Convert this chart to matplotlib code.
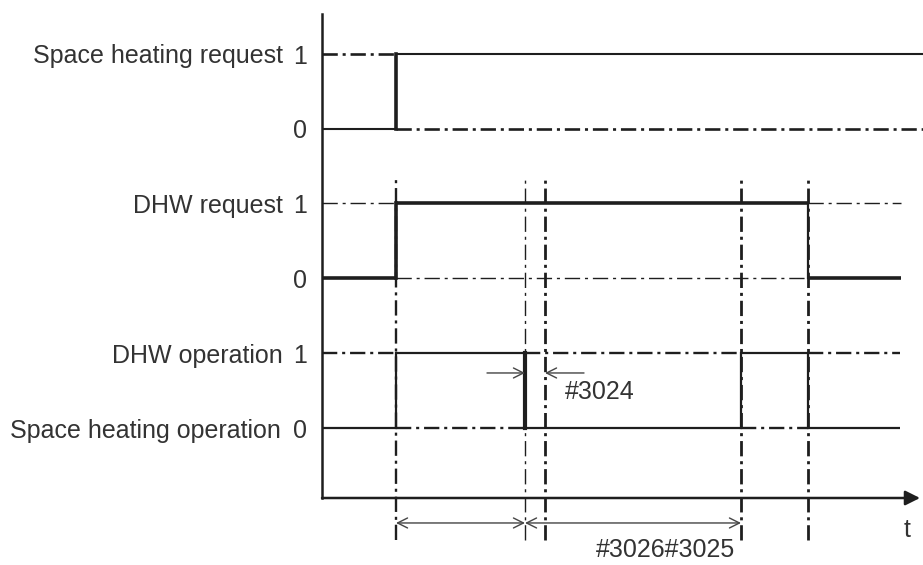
import numpy as np
import matplotlib
matplotlib.use('Agg')
import matplotlib.pyplot as plt

# ---- data: switching times (t units from the origin) and signal states ----
t_end_sh = 601
t_end_dhw = 579
t_end_op = 578

sh_req_edges = [0, 74, t_end_sh]
sh_req_states = [0, 1]

dhw_req_edges = [0, 74, 486, t_end_dhw]
dhw_req_states = [0, 1, 0]

op_edges = [0, 74, 203, 419, 486, t_end_op]
op_states = [0, 1, 0, 1, 0]          # 1 = DHW operation, 0 = space heating operation

guide_times = [74, 203, 223, 419, 486]   # vertical dash-dot reference lines

row_names = ['Space heating request', 'DHW request', 'DHW operation']
bottom_name = 'Space heating operation'
level_labels = ['0', '1']

# dimension arrows
dim_spans = [(74, 203), (203, 419)]
dim_text = '#3026#3025'
gap_span = (203, 223)
gap_text = '#3024'

# ---- styles ----
plt.rcParams['font.family'] = ['Liberation Sans', 'DejaVu Sans']
plt.rcParams['lines.scale_dashes'] = False
ink = '#1e1e1e'
txt = '#333333'
dashdot = (0, (11, 3.5, 2.2, 3.5))

row_base = [4.92, 2.93, 0.93]     # y of the "0" level for each row, "1" is +1
row_signals = [(sh_req_edges, sh_req_states),
               (dhw_req_edges, dhw_req_states),
               (op_edges, op_states)]
row_hlw = [1.5, 2.6, 1.6]          # solid level line width
row_dlw = [1.9, 1.0, 1.7]          # dash-dot line width
row_vlw = [[2.6], [2.6, 1.6], [1.6, 3.0, 1.6, 1.6]]   # edge widths
guide_lw = [1.7, 1.0, 2.0, 2.0, 2.0]

fig = plt.figure(figsize=(9.23, 5.65), dpi=100)
ax = fig.add_axes([322 / 923, 67 / 565, 601 / 923, 498 / 565])
ax.set_xlim(0, 601)
ax.set_ylim(0, 6.64)

# axes lines
for s in ['top', 'right', 'bottom']:
    ax.spines[s].set_visible(False)
ax.spines['left'].set_bounds(0, 6.45)
ax.spines['left'].set_linewidth(1.8)
ax.spines['left'].set_color(ink)
ax.annotate('', xy=(598, 0), xytext=(0, 0), annotation_clip=False,
            arrowprops=dict(arrowstyle='-|>', color=ink, lw=1.8,
                            mutation_scale=22, shrinkA=0, shrinkB=0))
ax.text(585, -0.43, 't', fontsize=18, color=txt, ha='center', va='center')

# tick labels 0 / 1 for every row
ticks = []
labels = []
for b in row_base:
    ticks += [b, b + 1]
    labels += level_labels
ax.set_yticks(ticks, labels)
ax.set_xticks([])
ax.tick_params(axis='y', length=0, pad=10.5, labelsize=18, labelcolor=txt)

# row names
for b, name in zip(row_base, row_names):
    ax.text(-39, b + 1, name, fontsize=18, color=txt, ha='right', va='center_baseline')
ax.text(-41, row_base[2], bottom_name, fontsize=18, color=txt, ha='right', va='center_baseline')

# guide lines
for t, lw in zip(guide_times, guide_lw):
    ax.plot([t, t], [-0.56, 4.24], color=ink, lw=lw, ls=dashdot, clip_on=False)

# signals
for b, (edges, states), hlw, dlw, vlws in zip(row_base, row_signals, row_hlw, row_dlw, row_vlw):
    for i, st in enumerate(states):
        x0, x1 = edges[i], edges[i + 1]
        ax.plot([x0, x1], [b + st, b + st], color=ink, lw=hlw, solid_capstyle='butt', clip_on=False)
        ax.plot([x0, x1], [b + 1 - st, b + 1 - st], color=ink, lw=dlw, ls=dashdot, clip_on=False)
    for j, x in enumerate(edges[1:-1]):
        ax.plot([x, x], [b, b + 1], color=ink, lw=vlws[j], solid_capstyle='projecting', clip_on=False)

# dimension arrows below the time axis
for a, c in dim_spans:
    ax.annotate('', xy=(c, -0.333), xytext=(a, -0.333), annotation_clip=False,
                arrowprops=dict(arrowstyle='<->', color='#444444', lw=1.0,
                                mutation_scale=18, shrinkA=0, shrinkB=0))
ax.text(344, -0.69, dim_text, fontsize=18, color=txt, ha='center', va='center')

# #3024 gap arrows
ax.annotate('', xy=(gap_span[0], 1.667), xytext=(gap_span[0] - 38, 1.667), annotation_clip=False,
            arrowprops=dict(arrowstyle='->', color='#444444', lw=1.0,
                            mutation_scale=18, shrinkA=0, shrinkB=0))
ax.annotate('', xy=(gap_span[1], 1.667), xytext=(gap_span[1] + 39, 1.667), annotation_clip=False,
            arrowprops=dict(arrowstyle='->', color='#444444', lw=1.0,
                            mutation_scale=18, shrinkA=0, shrinkB=0))
ax.text(243, 1.41, gap_text, fontsize=18, color=txt, ha='left', va='center')

fig.savefig('out.png', dpi=100)
